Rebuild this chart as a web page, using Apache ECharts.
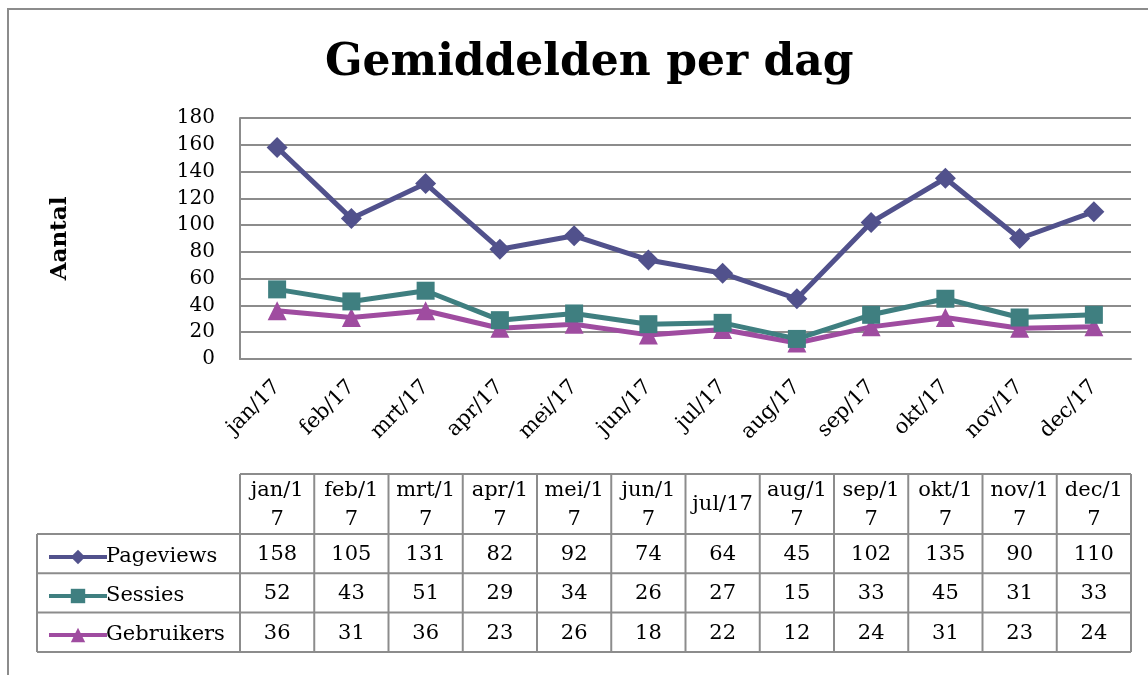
<!DOCTYPE html>
<html>
<head>
<meta charset="utf-8">
<script src="https://cdn.jsdelivr.net/npm/echarts@6/dist/echarts.min.js"></script>
<style>
  html, body { margin: 0; padding: 0; background: #fff; }
  #chart { width: 1148px; height: 675px; }
</style>
</head>
<body>
<div id="chart"></div>
<script>
// data
const months = ['jan/17','feb/17','mrt/17','apr/17','mei/17','jun/17','jul/17','aug/17','sep/17','okt/17','nov/17','dec/17'];
// table header labels, wrapped as in the original table
const tableHeads = ['jan/1\n7','feb/1\n7','mrt/1\n7','apr/1\n7','mei/1\n7','jun/1\n7','jul/17','aug/1\n7','sep/1\n7','okt/1\n7','nov/1\n7','dec/1\n7'];
const pageviews = [158, 105, 131, 82, 92, 74, 64, 45, 102, 135, 90, 110];
const sessies = [52, 43, 51, 29, 34, 26, 27, 15, 33, 45, 31, 33];
const gebruikers = [36, 31, 36, 23, 26, 18, 22, 12, 24, 31, 23, 24];
const seriesNames = ['Pageviews', 'Sessies', 'Gebruikers'];

const FONT = 'DejaVu Serif';
const colors = ['#51518c', '#3f7f80', '#9f4ca0'];
const symbols = ['diamond', 'rect', 'triangle'];
const allData = [pageviews, sessies, gebruikers];

const chart = echarts.init(document.getElementById('chart'));

let option = {
  animation: false,
  textStyle: { fontFamily: FONT, color: '#000' },
  title: {
    text: 'Gemiddelden per dag',
    left: 320,
    top: 37,
    textStyle: { fontFamily: FONT, fontSize: 44, fontWeight: 'bold', color: '#000' }
  },
  legend: {
    orient: 'vertical',
    left: 42,
    top: 540,
    itemGap: 15,
    itemWidth: 58,
    itemHeight: 18,
    lineStyle: { width: 4 },
    textStyle: { fontFamily: FONT, fontSize: 21, color: '#000', lineHeight: 24, padding: [0, 0, 0, -6] },
    data: seriesNames
  },
  grid: { left: 240, right: 17, top: 118, bottom: 316 },
  xAxis: {
    type: 'category',
    data: months,
    boundaryGap: true,
    axisLine: { lineStyle: { color: '#8c8c8c', width: 2 } },
    axisTick: { show: false },
    axisLabel: { rotate: 45, margin: 25, fontSize: 21, fontFamily: FONT, color: '#000', interval: 0 }
  },
  yAxis: {
    type: 'value',
    min: 0, max: 180, interval: 20,
    name: 'Aantal',
    nameLocation: 'middle',
    nameGap: 168,
    nameTextStyle: { fontFamily: FONT, fontSize: 23, fontWeight: 'bold', color: '#000' },
    axisLine: { show: true, lineStyle: { color: '#8c8c8c', width: 2 } },
    axisTick: { show: false },
    axisLabel: { margin: 25, fontSize: 20, fontFamily: FONT, color: '#000' },
    splitLine: { lineStyle: { color: '#8c8c8c', width: 2 } }
  },
  series: seriesNames.map((name, i) => ({
    name: name,
    type: 'line',
    data: allData[i],
    symbol: symbols[i],
    symbolSize: [21, 18, 19][i],
    itemStyle: { color: colors[i] },
    lineStyle: { color: colors[i], width: 5 },
    z: 10 - i
  }))
};
chart.setOption(option);

// data table below the plot
function buildTable() {
  const g = [];
  const band = chart.convertToPixel({ xAxisIndex: 0 }, months[1]) - chart.convertToPixel({ xAxisIndex: 0 }, months[0]);
  const tableLeft = 37;
  const colLeft = 240;
  const colRight = colLeft + band * months.length;
  const topY = 474, headY = 534, rowH = 39.3;
  const lineStyle = { stroke: '#8c8c8c', lineWidth: 2 };
  const rowsBottom = headY + rowH * 3;

  // outer chart frame
  g.push({ type: 'rect', shape: { x: 8, y: 9, width: 1200, height: 720 }, style: { fill: null, stroke: '#8c8c8c', lineWidth: 2 }, silent: true });

  // horizontal lines
  g.push({ type: 'line', shape: { x1: colLeft, y1: topY, x2: colRight, y2: topY }, style: lineStyle });
  for (let r = 0; r <= 3; r++) {
    const y = headY + r * rowH;
    g.push({ type: 'line', shape: { x1: tableLeft, y1: y, x2: colRight, y2: y }, style: lineStyle });
  }
  // vertical lines
  g.push({ type: 'line', shape: { x1: tableLeft, y1: headY, x2: tableLeft, y2: rowsBottom }, style: lineStyle });
  for (let c = 0; c <= months.length; c++) {
    const x = colLeft + c * band;
    g.push({ type: 'line', shape: { x1: x, y1: topY, x2: x, y2: rowsBottom }, style: lineStyle });
  }
  // header + values
  months.forEach((m, c) => {
    const cx = chart.convertToPixel({ xAxisIndex: 0 }, m);
    g.push({
      type: 'text', x: cx, y: (topY + headY) / 2 + 1,
      style: { text: tableHeads[c], align: 'center', verticalAlign: 'middle', font: '21px "' + FONT + '"', lineHeight: 29, fill: '#000' }
    });
    allData.forEach((arr, r) => {
      g.push({
        type: 'text', x: cx, y: headY + rowH * r + rowH / 2 + 1,
        style: { text: String(arr[c]), align: 'center', verticalAlign: 'middle', font: '21px "' + FONT + '"', fill: '#000' }
      });
    });
  });
  chart.setOption({ graphic: g });
}
buildTable();
</script>
</body>
</html>
